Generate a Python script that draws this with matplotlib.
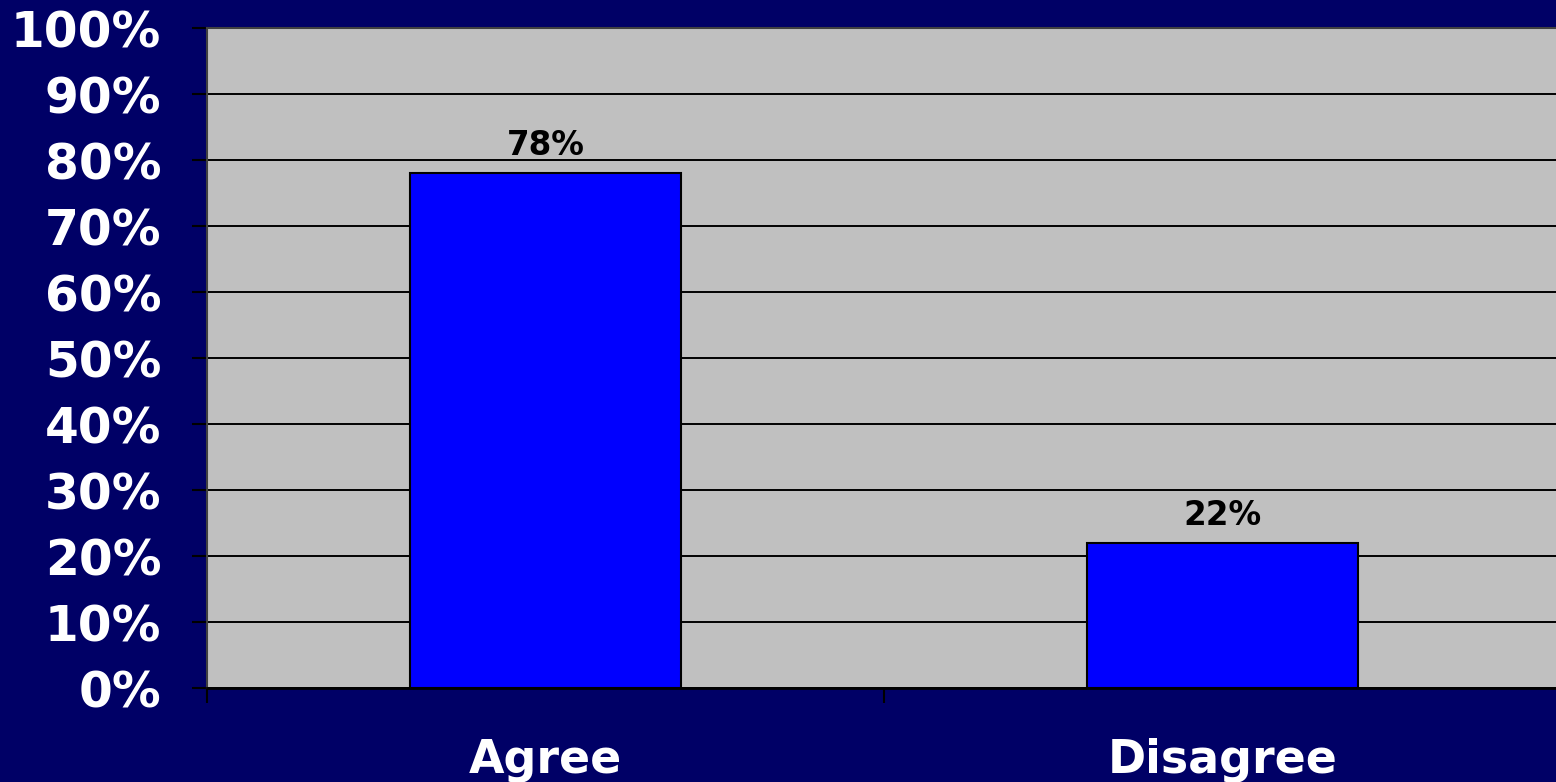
import matplotlib
matplotlib.use("Agg")
import matplotlib.pyplot as plt
from matplotlib.ticker import FuncFormatter, FixedLocator

categories = ["Agree", "Disagree"]
values = [78, 22]
y_ticks = list(range(0, 101, 10))

NAVY = "#000066"
PLOT_GRAY = "#C0C0C0"
BAR_BLUE = "#0000FF"

plt.rcParams["font.family"] = ["DejaVu Sans"]
plt.rcParams["font.weight"] = "bold"

fig = plt.figure(figsize=(15.56, 7.82), dpi=100, facecolor=NAVY)
ax = fig.add_axes([207 / 1556, 1 - 688 / 782, (1561 - 207) / 1556, (688 - 28) / 782])
ax.set_facecolor(PLOT_GRAY)

x = list(range(len(categories)))
bars = ax.bar(x, values, width=0.4, color=BAR_BLUE, edgecolor="black", linewidth=1.5, zorder=3)

for xi, v in zip(x, values):
    ax.annotate(f"{v}%", (xi, v), xytext=(0, 8), textcoords="offset points",
                ha="center", va="bottom", fontsize=23.5, fontweight="bold", color="black", zorder=4)

ax.set_xlim(-0.5, len(categories) - 0.5)
ax.set_ylim(0, 100)

ax.yaxis.set_major_locator(FixedLocator(y_ticks))
ax.yaxis.set_major_formatter(FuncFormatter(lambda v, p: f"{int(v)}%"))
ax.grid(axis="y", color="black", linewidth=1.4, zorder=1)

# category labels sit between boundary ticks
ax.set_xticks([i - 0.5 for i in range(len(categories) + 1)])
ax.set_xticklabels([])
ax.set_xticks(x, minor=True)
ax.set_xticklabels(categories, minor=True)
ax.tick_params(axis="x", which="minor", length=0, pad=36, labelsize=33, labelcolor="white")
ax.tick_params(axis="x", which="major", length=11, width=1.5, color="black")
ax.tick_params(axis="y", length=11, width=1.5, color="black", pad=22, labelsize=35, labelcolor="white")
for lbl in ax.get_xticklabels(minor=True) + ax.get_yticklabels():
    lbl.set_fontweight("bold")

for side in ("left", "top", "right"):
    ax.spines[side].set_color("#404040")
    ax.spines[side].set_linewidth(1.5)
ax.spines["bottom"].set_color("black")
ax.spines["bottom"].set_linewidth(2)
ax.spines["bottom"].set_zorder(5)

fig.savefig("out.png", dpi=100, facecolor=NAVY)
